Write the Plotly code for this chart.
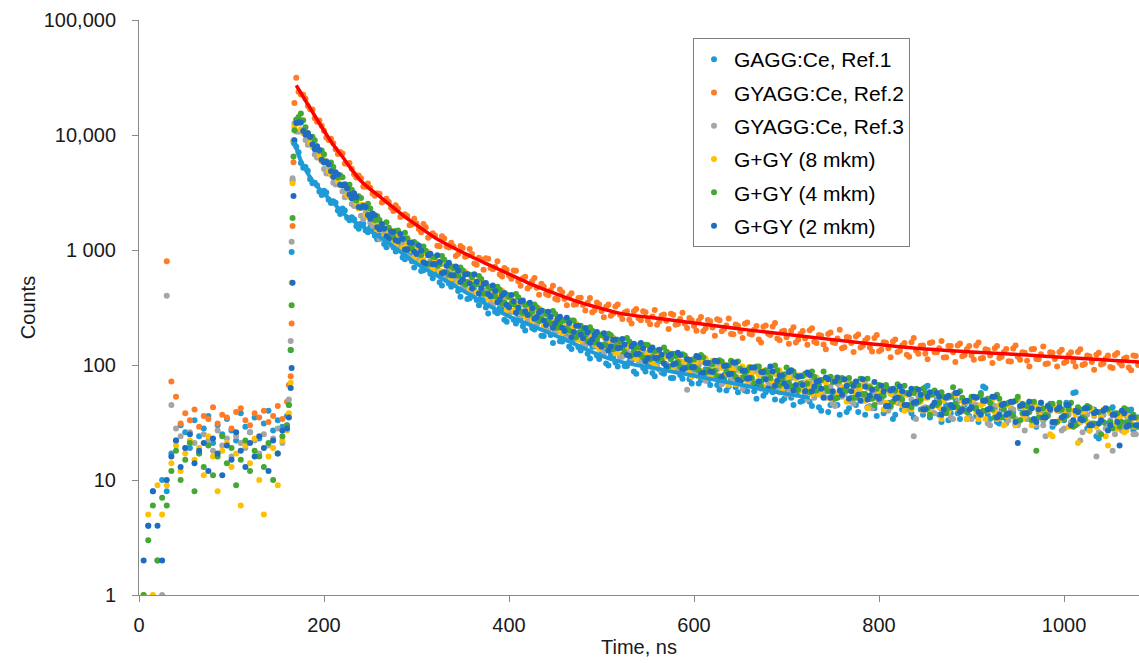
import plotly.graph_objects as go

# ---------------- time grid (ns) ----------------
TIME_PRE = list(range(5, 161, 5))
TIME_RISE = [162, 164, 165, 166, 167, 168]
TIME_DECAY = list(range(170, 1081, 5))
TIME_DECAY_B = [t + 2.5 for t in range(170, 1080, 5)]   # interleaved decay channels
TIME_A = TIME_PRE + TIME_RISE + TIME_DECAY

SERIES_NAMES = ["GAGG:Ce, Ref.1", "GYAGG:Ce, Ref.2", "GYAGG:Ce, Ref.3",
                "G+GY (8 mkm)", "G+GY (4 mkm)", "G+GY (2 mkm)"]

# ---------------- GAGG:Ce, Ref.1 ----------------
GAGG1_PRE = [None, 4, 8, 2, 10, 8,
             17, 22, 30, 26, 19, 33, 24, 28, 36, 21, 30, 25, 34, 27, 22, 38, 29, 26, 35, 23, 31, 40, 27, 33, 29, 36]
GAGG1_RISE = [45, 135, 960, 4000, 8700, 8400]
GAGG1_DECAY = [
    7900, 5720, 5260, 4120, 3850, 3220, 3280, 2740, 2650, 2200,
    2290, 1910, 1930, 1610, 1695, 1480, 1575, 1330, 1340, 1130,
    1200, 1055, 1045, 860, 940, 797, 792, 657, 744, 622,
    644, 523, 595, 511, 549, 441, 458, 375, 428, 367,
    394, 317, 335, 290, 315, 248, 281, 248, 274, 217,
    237, 210, 227, 180, 204, 182, 201, 161, 172, 145,
    168, 143, 152, 125, 144, 121, 126, 103, 122, 105,
    120, 98, 107, 88, 110, 94, 103, 85, 105, 86,
    92, 77, 94, 82, 93, 75, 85, 69, 85, 73,
    86, 67, 75, 60, 75, 64, 76, 60, 68, 59,
    72, 54, 64, 58, 65, 49, 58, 52, 61, 48,
    56, 48, 61, 43, 53, 39, 56, 45, 60, 39,
    52, 45, 55, 37, 51, 42, 56, 38, 47, 34,
    51, 41, 56, 38, 46, 41, 64, 35, 47, 37,
    50, 33, 43, 38, 50, 34, 44, 36, 57, 63,
    34, 42, 31, 45, 36, 39, 31, 46, 34, 42,
    29, 39, 35, 46, 31, 40, 33, 42, 57, 31,
    37, 28, 40, 24, 37, 31, 41, 29, 35, 31,
    39, 27, 35]
GAGG1_DECAY_B = [
    7070, 5190, 4890, 3800, 3650, 3010, 3160, 2560, 2570, 2060,
    2200, 1815, 1850, 1530, 1690, 1425, 1550, 1240, 1310, 1055,
    1190, 968, 1080, 832, 900, 704, 815, 667, 751, 568,
    627, 492, 600, 478, 521, 393, 476, 381, 447, 331,
    363, 281, 351, 282, 305, 238, 296, 230, 254, 200,
    245, 204, 240, 179, 201, 155, 198, 160, 177, 138,
    174, 134, 148, 114, 145, 113, 130, 99, 117, 97,
    123, 98, 110, 84, 111, 88, 101, 80, 108, 84,
    98, 77, 90, 76, 95, 69, 86, 74, 92, 67,
    77, 61, 82, 65, 76, 58, 78, 59, 68, 51,
    70, 58, 72, 50, 62, 51, 64, 45, 59, 49,
    62, 44, 56, 40, 60, 45, 52, 37, 56, 42,
    61, 39, 50, 43, 56, 36, 51, 41, 57, 37,
    47, 41, 57, 35, 48, 37, 66, 38, 50, 32,
    45, 38, 51, 34, 45, 36, 52, 32, 65, 37,
    45, 32, 41, 34, 47, 30, 42, 35, 48, 32,
    39, 33, 44, 29, 41, 34, 47, 31, 58, 32,
    39, 27, 41, 23, 37, 31, 43, 28, 38, 32,
    41, 29]

# ---------------- GYAGG:Ce, Ref.2 ----------------
GYAGG2_PRE = [None, None, None, None, None,
              800, 72, 53, 31, 38, 33, 41, 29, 36, 34, 43, 31, 37, 35, 28, 39, 42, 33, 30, 38, 35, 40, 32, 36, 44, 34, 48]
GYAGG2_RISE = [67, 80, 230, 1620, 5800, 19000]
GYAGG2_DECAY = [
    31500, 22500, 20700, 16750, 13950, 13350, 10900, 9050, 8470, 6850,
    6910, 5620, 5100, 4280, 4200, 3540, 3480, 2960, 3080, 2660,
    2620, 2180, 2300, 2000, 1975, 1670, 1700, 1430, 1575, 1330,
    1340, 1080, 1260, 1050, 1075, 925, 1040, 890, 925, 745,
    828, 848, 697, 714, 613, 696, 600, 664, 534, 567,
    463, 535, 469, 509, 415, 447, 377, 454, 374, 396,
    334, 383, 332, 347, 287, 350, 295, 321, 268, 323,
    273, 286, 248, 293, 255, 294, 244, 264, 224, 270,
    242, 279, 224, 251, 228, 256, 218, 242, 197, 246,
    212, 250, 197, 220, 186, 225, 196, 228, 187, 203,
    167, 215, 187, 216, 170, 196, 174, 199, 157, 186,
    170, 201, 159, 182, 151, 186, 158, 170, 140, 175,
    155, 177, 142, 163, 142, 172, 132, 158, 140, 160,
    130, 148, 123, 158, 134, 147, 126, 155, 129, 140,
    116, 146, 129, 148, 119, 138, 121, 148, 114, 137,
    121, 140, 115, 130, 108, 139, 118, 129, 109, 137,
    113, 124, 102, 129, 113, 130, 104, 122, 107, 130,
    100, 121, 106, 123, 101, 114, 96, 122, 104, 114,
    95, 121, 100]
GYAGG2_DECAY_B = [
    23750, 22360, 17850, 16640, 13060, 12050, 9490, 9290, 7510, 7130,
    5650, 5720, 4550, 4440, 3570, 3790, 3100, 3120, 2590, 2790,
    2330, 2450, 1940, 2050, 1640, 1870, 1520, 1680, 1280, 1400,
    1090, 1320, 1075, 1155, 887, 1082, 875, 1022, 765, 856,
    672, 838, 681, 797, 587, 675, 563, 661, 489, 586,
    485, 572, 409, 481, 405, 489, 370, 430, 330, 420,
    338, 384, 298, 383, 299, 336, 260, 335, 279, 335,
    251, 293, 229, 307, 245, 287, 226, 301, 240, 275,
    206, 274, 227, 284, 210, 245, 199, 262, 209, 240,
    180, 245, 206, 254, 185, 219, 172, 234, 184, 218,
    157, 221, 182, 232, 164, 199, 153, 213, 167, 198,
    150, 209, 155, 180, 137, 192, 155, 203, 143, 173,
    130, 184, 147, 172, 131, 182, 136, 156, 117, 167,
    133, 155, 118, 172, 125, 148, 112, 158, 129, 162,
    117, 146, 106, 154, 122, 146, 111, 157, 115, 135,
    104, 146, 118, 138, 107, 148, 111, 128, 97, 138,
    112, 145, 103, 128, 97, 136, 107, 129, 97, 137,
    102, 119, 91, 128, 103, 121, 94, 127, 99, 116,
    90, 120]

# ---------------- GYAGG:Ce, Ref.3 ----------------
GYAGG3_PRE = [None, None, None, None, 1, 400,
              45, 28, 24, 19, 26, 21, 17, 25, 22, 18, 27, 20, 23, 16, 24, 21, 19, 26, 22, 17, 25, 20, 23, 28, 21, 30]
GYAGG3_RISE = [50, 162, 1180, 4200, 9000, 12600]
GYAGG3_DECAY = [
    10750, 11090, 9050, 8510, 6770, 6340, 5070, 4940, 3850, 3880,
    3230, 3150, 2510, 2430, 1985, 2120, 1735, 1685, 1240, 1415,
    1200, 1316, 1051, 1089, 881, 1018, 849, 946, 728, 801,
    696, 788, 584, 670, 583, 624, 496, 529, 429, 526,
    428, 446, 360, 423, 345, 376, 286, 347, 298, 335,
    253, 280, 227, 280, 229, 247, 197, 236, 193, 230,
    173, 187, 152, 187, 157, 165, 138, 167, 136, 149,
    117, 146, 126, 144, 111, 126, 109, 126, 98, 116,
    102, 117, 92, 108, 91, 110, 83, 99, 78, 105,
    81, 92, 68, 94, 78, 97, 69, 81, 70, 88,
    63, 81, 71, 87, 62, 75, 55, 77, 63, 81,
    57, 71, 52, 73, 57, 64, 46, 69, 53, 62,
    48, 64, 53, 68, 44, 57, 48, 62, 40, 55,
    47, 57, 41, 50, 34, 53, 43, 56, 38, 48,
    40, 52, 34, 48, 42, 48, 34, 45, 38, 49,
    30, 44, 38, 46, 33, 41, 30, 43, 34, 45,
    30, 40, 24, 40, 32, 42, 28, 37, 33, 39,
    26, 37, 30, 16, 37, 28, 33, 25, 37, 29,
    33, 25, 34]
GYAGG3_DECAY_B = [
    10670, 10440, 8210, 8100, 6360, 5930, 4620, 4700, 3710, 3670,
    2870, 3010, 2410, 2330, 1850, 2060, 1615, 1585, 1260, 1455,
    1105, 1220, 1034, 1170, 855, 978, 825, 959, 687, 796,
    679, 762, 544, 665, 539, 647, 473, 526, 414, 518,
    409, 444, 327, 421, 340, 405, 289, 330, 270, 327,
    235, 290, 241, 283, 206, 237, 199, 247, 171, 211,
    174, 202, 149, 176, 148, 181, 126, 162, 136, 157,
    118, 139, 115, 149, 104, 127, 109, 129, 91, 119,
    98, 122, 87, 105, 61, 105, 82, 106, 73, 94,
    81, 103, 71, 90, 73, 90, 62, 86, 73, 90,
    62, 79, 67, 84, 58, 76, 60, 83, 63, 70,
    50, 74, 57, 74, 52, 65, 44, 66, 55, 70,
    46, 61, 49, 63, 42, 56, 48, 61, 43, 54,
    47, 56, 42, 24, 53, 42, 56, 38, 49, 41,
    52, 35, 46, 40, 49, 35, 45, 36, 50, 31,
    43, 37, 46, 31, 42, 34, 44, 27, 40, 33,
    41, 30, 38, 31, 41, 27, 38, 32, 40, 22,
    36, 30, 36, 26, 37, 29, 18, 34, 27, 36,
    29, 25]

# ---------------- G+GY (8 mkm) ----------------
GGY8_PRE = [1, 5, 1, 9, 5, 9,
            14, 20, 12, 17, 22, 15, 19, 11, 24, 16, 8, 18, 21, 13, 17, 6, 20, 14, 23, 10, 5, 16, 19, 9, 22, 27]
GGY8_RISE = [38, 70, 520, 3800, 9000, 12000]
GGY8_DECAY = [
    13600, 11170, 10590, 8570, 8250, 6590, 6050, 4830, 4830, 3950,
    3710, 2990, 3110, 2520, 2470, 2010, 2090, 1750, 1644, 1311,
    1432, 1224, 1338, 1035, 1121, 986, 1022, 798, 944, 755,
    802, 655, 754, 632, 714, 525, 585, 513, 566, 426,
    494, 412, 473, 366, 398, 355, 396, 298, 343, 288,
    323, 244, 286, 251, 289, 218, 240, 198, 240, 201,
    212, 166, 207, 164, 178, 148, 185, 147, 157, 126,
    158, 135, 147, 118, 146, 119, 126, 105, 130, 110,
    118, 98, 124, 96, 107, 89, 107, 80, 107, 89,
    109, 79, 94, 81, 94, 68, 88, 78, 96, 70,
    82, 65, 89, 72, 82, 59, 83, 66, 76, 60,
    82, 65, 69, 55, 73, 59, 77, 55, 64, 48,
    69, 57, 63, 49, 66, 52, 58, 41, 59, 48,
    65, 45, 55, 41, 57, 48, 52, 38, 56, 43,
    49, 39, 55, 42, 49, 34, 50, 39, 45, 34,
    50, 39, 45, 30, 45, 36, 50, 34, 41, 30,
    44, 36, 40, 25, 43, 33, 38, 29, 40, 21,
    39, 32, 41, 29, 35, 24, 38, 30, 35, 26,
    36, 30, 34]
GGY8_DECAY_B = [
    12610, 10410, 10210, 7910, 7670, 6030, 5850, 4500, 4480, 3660,
    3740, 2890, 2930, 2290, 2450, 1960, 2060, 1480, 1580, 1300,
    1480, 1110, 1245, 1050, 1195, 857, 999, 827, 956, 674,
    776, 652, 763, 565, 654, 547, 649, 449, 531, 434,
    518, 377, 432, 365, 444, 301, 373, 312, 354, 264,
    305, 255, 310, 218, 267, 224, 256, 189, 223, 184,
    230, 163, 193, 162, 192, 137, 174, 145, 173, 128,
    148, 124, 151, 113, 137, 117, 142, 98, 122, 104,
    128, 95, 111, 94, 114, 79, 105, 89, 114, 79,
    95, 81, 101, 67, 91, 77, 97, 68, 85, 72,
    89, 62, 81, 71, 90, 64, 79, 55, 81, 64,
    72, 56, 78, 59, 70, 51, 72, 59, 74, 50,
    63, 52, 67, 42, 62, 52, 65, 47, 56, 48,
    58, 40, 55, 47, 61, 40, 52, 43, 55, 34,
    52, 44, 54, 39, 47, 41, 50, 34, 46, 40,
    50, 34, 44, 36, 46, 30, 43, 36, 46, 31,
    40, 34, 43, 24, 40, 34, 43, 30, 37, 32,
    40, 27, 37, 31, 41, 20, 37, 28, 37, 27,
    33, 29]

# ---------------- G+GY (4 mkm) ----------------
GGY4_PRE = [1, 3, 6, 2, 7, 6,
            12, 18, 10, 15, 21, 8, 17, 13, 20, 11, 16, 24, 14, 19, 9, 15, 22, 12, 18, 16, 13, 21, 10, 17, 24, 30]
GGY4_RISE = [45, 135, 330, 1900, 6500, 11000]
GGY4_DECAY = [
    13600, 15400, 11680, 9540, 9010, 7260, 6800, 5550, 5280, 4270,
    4290, 3470, 3340, 2690, 2830, 2340, 2300, 1810, 1824, 1523,
    1562, 1288, 1479, 1233, 1264, 1038, 1127, 903, 986, 768,
    867, 749, 823, 615, 699, 596, 664, 523, 580, 500,
    559, 419, 466, 397, 451, 349, 391, 337, 388, 283,
    337, 292, 318, 254, 278, 228, 277, 228, 246, 199,
    244, 191, 201, 161, 199, 168, 181, 147, 181, 146,
    160, 130, 160, 134, 142, 116, 149, 117, 134, 110,
    131, 112, 120, 96, 121, 99, 112, 90, 117, 91,
    102, 80, 107, 88, 109, 79, 93, 81, 95, 69,
    97, 75, 86, 62, 90, 75, 95, 65, 81, 69,
    84, 58, 79, 67, 88, 59, 71, 52, 77, 60,
    68, 52, 76, 56, 64, 45, 67, 54, 62, 48,
    68, 50, 57, 43, 62, 50, 57, 37, 60, 47,
    53, 42, 64, 43, 52, 39, 53, 42, 55, 40,
    47, 35, 51, 41, 47, 36, 53, 38, 44, 33,
    18, 47, 37, 43, 32, 47, 34, 41, 29, 43,
    35, 44, 31, 39, 25, 41, 32, 38, 29, 42,
    32, 37, 29]
GGY4_DECAY_B = [
    14310, 13420, 10290, 9660, 7640, 7350, 5790, 5770, 4460, 4460,
    3670, 3700, 2800, 2940, 2400, 2530, 1920, 1965, 1548, 1747,
    1326, 1463, 1228, 1416, 1026, 1173, 934, 1072, 752, 874,
    729, 889, 638, 723, 610, 705, 501, 610, 496, 593,
    419, 482, 398, 478, 341, 410, 342, 414, 293, 334,
    275, 336, 241, 292, 245, 295, 211, 243, 208, 244,
    174, 219, 182, 213, 157, 182, 151, 187, 137, 166,
    140, 172, 121, 147, 122, 150, 112, 132, 114, 142,
    97, 125, 106, 124, 95, 111, 93, 122, 85, 104,
    89, 110, 75, 99, 84, 107, 75, 90, 77, 97,
    65, 90, 77, 99, 67, 83, 70, 88, 61, 80,
    69, 88, 60, 74, 63, 79, 51, 73, 61, 77,
    52, 67, 56, 76, 51, 62, 54, 67, 44, 60,
    52, 66, 45, 57, 48, 62, 42, 55, 45, 58,
    38, 53, 46, 59, 40, 49, 42, 53, 40, 51,
    41, 55, 35, 46, 38, 49, 33, 45, 39, 48,
    35, 42, 36, 46, 32, 41, 36, 47, 30, 41,
    34, 43, 31, 39, 32, 41, 28, 38, 32, 41,
    30, 35]

# ---------------- G+GY (2 mkm) ----------------
GGY2_PRE = [2, 4, 8, 4, 2, 10,
            16, 22, 13, 19, 25, 14, 18, 21, 12, 23, 17, 11, 20, 15, 26, 18, 13, 21, 16, 24, 19, 12, 22, 17, 27, 28]
GGY2_RISE = [35, 63, 94, 520, 2950, 9000]
GGY2_DECAY = [
    12700, 12840, 10070, 9670, 7530, 7420, 5760, 5570, 4320, 4540,
    3640, 3450, 2820, 2890, 2330, 2360, 1870, 2010, 1506, 1542,
    1251, 1431, 1192, 1260, 1015, 1153, 922, 989, 765, 927,
    757, 787, 642, 774, 601, 665, 557, 619, 462, 530,
    466, 517, 396, 439, 371, 422, 318, 359, 315, 364,
    272, 313, 261, 298, 223, 263, 231, 263, 198, 232,
    194, 219, 171, 193, 167, 194, 144, 171, 145, 167,
    142, 151, 120, 153, 125, 140, 115, 142, 115, 123,
    97, 124, 103, 122, 94, 110, 96, 117, 86, 104,
    87, 107, 79, 99, 84, 105, 71, 89, 77, 95,
    72, 87, 62, 88, 73, 81, 65, 90, 67, 80,
    59, 82, 65, 73, 52, 75, 59, 78, 55, 66,
    59, 72, 49, 65, 54, 71, 51, 59, 44, 62,
    52, 59, 45, 62, 48, 55, 41, 58, 47, 53,
    41, 54, 43, 57, 41, 49, 43, 52, 37, 49,
    42, 53, 37, 46, 38, 48, 21, 45, 38, 42,
    32, 47, 35, 41, 32, 43, 36, 45, 33, 39,
    33, 42, 30, 39, 33, 42, 30, 37, 20, 38,
    30, 35, 30]
GGY2_DECAY_B = [
    12880, 10850, 10430, 8250, 7980, 6090, 5870, 4840, 4750, 3690,
    3720, 3040, 3110, 2360, 2430, 2020, 2080, 1580, 1680, 1314,
    1446, 1213, 1381, 1012, 1156, 964, 1097, 780, 900, 751,
    900, 629, 731, 602, 718, 528, 612, 511, 615, 418,
    505, 415, 492, 351, 404, 332, 406, 284, 355, 294,
    347, 252, 286, 244, 291, 211, 250, 211, 258, 174,
    219, 183, 210, 156, 182, 151, 189, 134, 165, 140,
    168, 122, 145, 124, 155, 108, 135, 115, 136, 103,
    120, 101, 128, 91, 112, 95, 120, 83, 104, 88,
    109, 74, 98, 83, 105, 74, 89, 76, 95, 64,
    87, 75, 97, 66, 81, 69, 87, 60, 79, 67,
    86, 59, 72, 62, 78, 52, 72, 60, 75, 51,
    66, 55, 75, 50, 61, 53, 66, 44, 60, 51,
    65, 45, 56, 47, 61, 41, 53, 44, 57, 37,
    52, 45, 57, 39, 48, 41, 53, 39, 49, 41,
    53, 35, 45, 37, 48, 32, 44, 38, 48, 34,
    41, 35, 44, 32, 41, 35, 45, 30, 40, 34,
    42, 30, 38, 31, 40, 27, 37, 32, 40, 29,
    35, 30]

# ---------------- fitted decay curves ----------------
REF2_FIT_T = [170, 175, 180, 190, 200, 210, 220, 230, 240, 250, 260, 270, 280, 290, 300,
              320, 340, 360, 380, 400, 425, 450, 475, 500, 520, 560, 600, 660, 720, 780,
              840, 900, 960, 1020, 1081]
REF2_FIT_V = [27000, 23200, 19900, 14700, 10900, 8220, 6460, 5000, 3980, 3380, 2920, 2520, 2170, 1880, 1650,
              1280, 1045, 869, 733, 618, 500, 418, 354, 310, 281, 255, 232, 201, 177, 156,
              140, 130, 122, 114, 106]
REF1_FIT_T = [168, 170, 175, 180, 188, 200, 212, 225, 240, 260, 280, 300, 325, 350, 375,
              400, 430, 460, 500, 520, 560, 600, 660, 700, 725]
REF1_FIT_V = [8700, 7760, 5960, 5010, 3950, 3090, 2480, 1950, 1630, 1300, 998, 761, 581, 445, 340,
              265, 211, 167, 120, 107, 92.7, 80.5, 65, 56.1, 52]

# ---------------- tick labels ----------------
X_TICKS = [0, 200, 400, 600, 800, 1000]
Y_TICKS = [1, 10, 100, 1000, 10000, 100000]
Y_TICK_TEXT = ["1", "10", "100", "1 000", "10,000", "100,000"]

COLORS = ["#1E9BD7", "#FF7B25", "#A5A5A5", "#FFC000", "#44A833", "#1F6DC3"]
FIT_COLORS = {"ref1": "#1E9BD7", "ref2": "#FF0000"}

series_a = [
    GAGG1_PRE + GAGG1_RISE + GAGG1_DECAY,
    GYAGG2_PRE + GYAGG2_RISE + GYAGG2_DECAY,
    GYAGG3_PRE + GYAGG3_RISE + GYAGG3_DECAY,
    GGY8_PRE + GGY8_RISE + GGY8_DECAY,
    GGY4_PRE + GGY4_RISE + GGY4_DECAY,
    GGY2_PRE + GGY2_RISE + GGY2_DECAY,
]
series_b = [GAGG1_DECAY_B, GYAGG2_DECAY_B, GYAGG3_DECAY_B, GGY8_DECAY_B, GGY4_DECAY_B, GGY2_DECAY_B]
for name, va, vb in zip(SERIES_NAMES, series_a, series_b):
    assert len(va) == len(TIME_A), (name, "A", len(va), len(TIME_A))
    assert len(vb) == len(TIME_DECAY_B), (name, "B", len(vb), len(TIME_DECAY_B))

fig = go.Figure()
MS = 6

def add_points(i):
    fig.add_trace(go.Scatter(
        x=TIME_A + TIME_DECAY_B, y=series_a[i] + series_b[i], mode="markers",
        name=SERIES_NAMES[i], legendgroup=f"g{i}", legendrank=i + 1,
        marker=dict(color=COLORS[i], size=MS, line=dict(width=0)),
        cliponaxis=True))

# draw order: Ref.1 dots, Ref.2 dots, Ref.2 fit, the other samples, then the Ref.1 fit on top
add_points(0)
add_points(1)
fig.add_trace(go.Scatter(x=REF2_FIT_T, y=REF2_FIT_V, mode="lines", showlegend=False,
                         line=dict(color=FIT_COLORS["ref2"], width=3.5, shape="spline"),
                         hoverinfo="skip"))
for i in range(2, 6):
    add_points(i)
fig.add_trace(go.Scatter(x=REF1_FIT_T, y=REF1_FIT_V, mode="lines", showlegend=False,
                         line=dict(color=FIT_COLORS["ref1"], width=4, shape="spline"),
                         hoverinfo="skip"))

AXIS_COLOR = "#898989"
TICK_FONT = dict(family="Liberation Sans, Arial, sans-serif", size=20, color="#1a1a1a")

fig.update_layout(
    width=1139, height=663,
    margin=dict(l=139, r=0, t=20, b=68),
    paper_bgcolor="white", plot_bgcolor="white",
    showlegend=True,
    legend=dict(x=0.554, y=0.9687, xanchor="left", yanchor="top",
                bgcolor="white", bordercolor="#7F7F7F", borderwidth=1,
                font=dict(family="Liberation Sans, Arial, sans-serif", size=21, color="#000000"),
                tracegroupgap=3, itemsizing="trace"),
    xaxis=dict(range=[0, 1081], tickvals=X_TICKS, ticks="outside", ticklen=6,
               tickcolor=AXIS_COLOR, showline=True, linecolor=AXIS_COLOR, linewidth=1,
               showgrid=False, zeroline=False, tickfont=TICK_FONT, ticklabelstandoff=6,
               title=dict(text="Time, ns", font=TICK_FONT, standoff=4)),
    yaxis=dict(type="log", range=[0, 5], tickvals=Y_TICKS, ticktext=Y_TICK_TEXT,
               ticks="outside", ticklen=6, tickcolor=AXIS_COLOR, showline=True,
               linecolor=AXIS_COLOR, linewidth=1, showgrid=False, zeroline=False,
               tickfont=TICK_FONT, ticklabelstandoff=12,
               title=dict(text="Counts", font=TICK_FONT, standoff=2)),
)

fig.write_html("out.html", config={"displayModeBar": False},
               post_script="document.body.style.margin='0';document.body.style.padding='0';")
